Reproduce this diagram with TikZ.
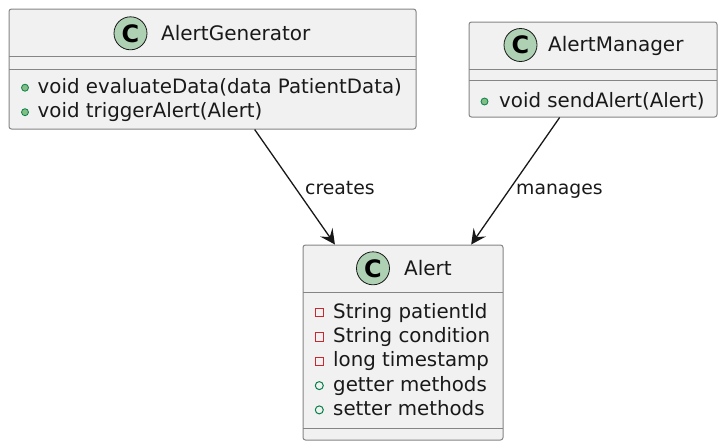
\documentclass[tikz,border=0pt]{standalone}
\usepackage{fontspec}
\setmainfont{DejaVu Sans}
\usetikzlibrary{arrows.meta}
\definecolor{boxfill}{HTML}{F1F1F1}
\definecolor{boxline}{HTML}{858585}
\definecolor{ink}{HTML}{181818}
\definecolor{badge}{HTML}{ADD1B2}
\definecolor{publine}{HTML}{038048}
\definecolor{pubfill}{HTML}{84BE84}
\definecolor{privline}{HTML}{C82930}
\tikzset{
  classbox/.style={draw=boxline, fill=boxfill, line width=1pt, rounded corners=2.5pt, rectangle, inner sep=0pt},
  sepline/.style={draw=boxline, line width=1pt},
  cbadge/.style={circle, draw=ink, fill=badge, line width=0.8pt, minimum size=33pt, inner sep=0pt, font=\fontsize{24}{24}\selectfont\bfseries},
  titletext/.style={anchor=base west, inner sep=0pt, font=\fontsize{20}{24}\selectfont, text=black!90},
  membertext/.style={anchor=base west, inner sep=0pt, font=\fontsize{19.8}{24}\selectfont, text=black!90},
  pubmethod/.style={circle, draw=publine, fill=pubfill, line width=0.8pt, minimum size=7pt, inner sep=0pt},
  pubfield/.style={circle, draw=publine, fill=none, line width=1pt, minimum size=8pt, inner sep=0pt},
  privfield/.style={rectangle, draw=privline, fill=none, line width=1pt, minimum size=8.5pt, inner sep=0pt},
  conn/.style={draw=ink, line width=1.3pt, -{Stealth[length=15pt, width=15pt, inset=6pt]}},
  edgelabel/.style={anchor=base west, inner sep=0pt, font=\fontsize{18.8}{22}\selectfont, text=black!90}
}
\begin{document}
\begin{tikzpicture}[x=1pt, y=-1pt]
\useasboundingbox (0,0) rectangle (721,445);

% AlertGenerator
\node[classbox, minimum width=407pt, minimum height=120pt] (gen) at (212.5,69) {};
\draw[sepline] (9,56.7) -- (416,56.7);
\draw[sepline] (9,69) -- (416,69);
\node[cbadge] (genc) at (130.5,33.3) {C};
\node[titletext] (gent) at (161,40.7) {AlertGenerator};
\node[pubmethod] (gend1) at (25,87.7) {};
\node[membertext] (genm1) at (37.5,93.3) {void evaluateData(data PatientData)};
\node[pubmethod] (gend2) at (25,112.2) {};
\node[membertext] (genm2) at (37.5,117.8) {void triggerAlert(Alert)};

% AlertManager
\node[classbox, minimum width=248pt, minimum height=95pt] (man) at (593,69.5) {};
\draw[sepline] (469,69.3) -- (717,69.3);
\draw[sepline] (469,80.7) -- (717,80.7);
\node[cbadge] (manc) at (520.5,45) {C};
\node[titletext] (mant) at (548,51.7) {AlertManager};
\node[pubmethod] (mand1) at (484.5,101.5) {};
\node[membertext] (manm1) at (499,107.2) {void sendAlert(Alert)};

% Alert
\node[classbox, minimum width=200pt, minimum height=195pt] (alert) at (403,342.5) {};
\draw[sepline] (303,292) -- (503,292);
\draw[sepline] (303,428) -- (503,428);
\node[cbadge] (alertc) at (373,268.3) {C};
\node[titletext] (alertt) at (404,275.7) {Alert};
\node[privfield] (af1) at (319.3,312.7) {};
\node[membertext] (am1) at (333,318.3) {String patientId};
\node[privfield] (af2) at (319.3,337) {};
\node[membertext] (am2) at (333,342.6) {String condition};
\node[privfield] (af3) at (319.3,361.3) {};
\node[membertext] (am3) at (333,366.9) {long timestamp};
\node[pubfield] (af4) at (319.3,385.6) {};
\node[membertext] (am4) at (333,391.2) {getter methods};
\node[pubfield] (af5) at (319.3,409.9) {};
\node[membertext] (am5) at (333,415.5) {setter methods};

% connectors
\draw[conn] (gen) -- (alert);
\draw[conn] (man) -- (alert);
\node[edgelabel] (lcreates) at (305,194) {creates};
\node[edgelabel] (lmanages) at (516,194) {manages};
\end{tikzpicture}
\end{document}
